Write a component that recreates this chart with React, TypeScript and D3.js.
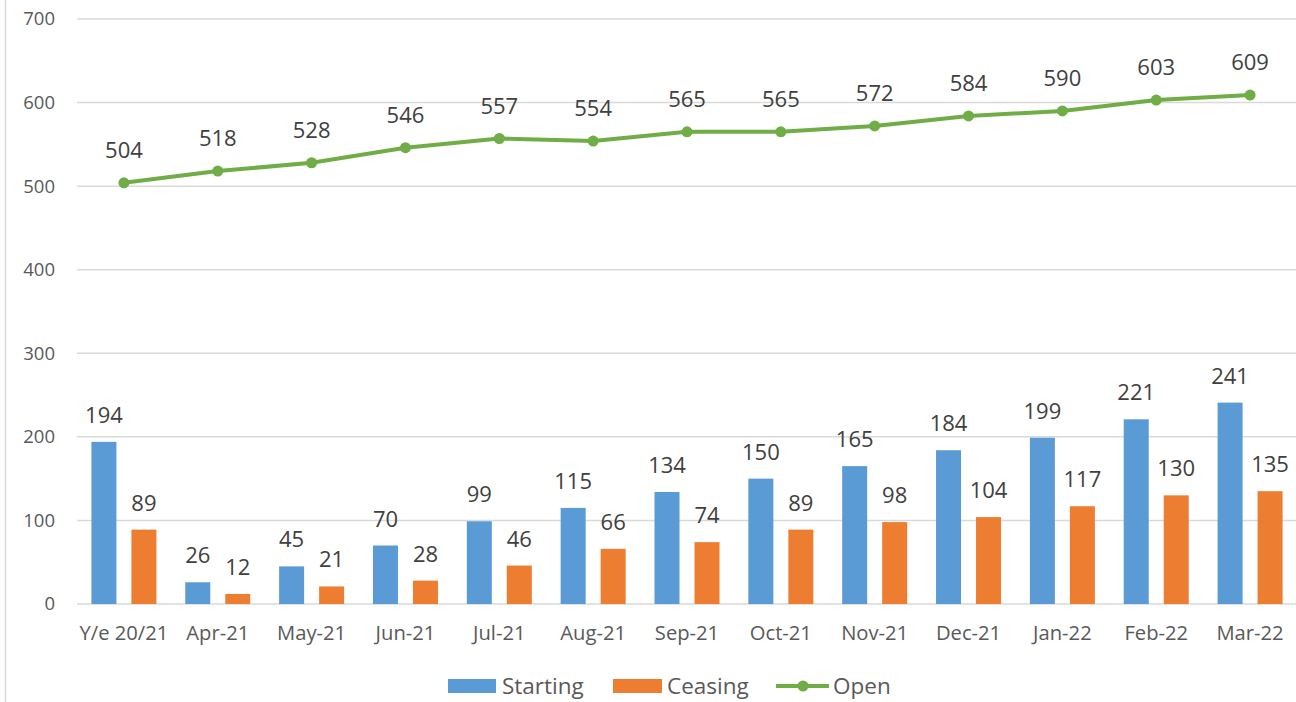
import React from "react";
import * as d3 from "d3";

const categories = ["Y/e 20/21", "Apr-21", "May-21", "Jun-21", "Jul-21", "Aug-21", "Sep-21", "Oct-21", "Nov-21", "Dec-21", "Jan-22", "Feb-22", "Mar-22"];
const starting = [194, 26, 45, 70, 99, 115, 134, 150, 165, 184, 199, 221, 241];
const ceasing = [89, 12, 21, 28, 46, 66, 74, 89, 98, 104, 117, 130, 135];
const open = [504, 518, 528, 546, 557, 554, 565, 565, 572, 584, 590, 603, 609];
const yTicks = [0, 100, 200, 300, 400, 500, 600, 700];

const W = 1296, H = 702;
const BLUE = "#5B9BD5", ORANGE = "#ED7D31", GREEN = "#70AD47";
const FONT = "'Open Sans', sans-serif";

export default function App() {
  const x = d3.scaleBand().domain(categories).range([77, 1297]).paddingInner(0).paddingOuter(0);
  const y = d3.scaleLinear().domain([0, 700]).range([604, 19]);
  const sub = d3.scaleBand().domain(["s", "c"]).range([-32.5, 32.5]).paddingInner(0.375).paddingOuter(0);
  const cx = (c: string) => (x(c) as number) + x.bandwidth() / 2;
  const line = d3.line<number>().x((_, i) => cx(categories[i])).y((v) => y(v));
  const bw = sub.bandwidth();

  return (
    <svg width={W} height={H} style={{ position: "absolute", left: 0, top: 0, background: "#fff" }}>
      <line x1={5.5} x2={5.5} y1={0} y2={702} stroke="#d9d9d9" strokeWidth={1.5} />
      {yTicks.map((t) => (
        <g key={t}>
          <line x1={77} x2={1296} y1={y(t)} y2={y(t)} stroke="#d9d9d9" strokeWidth={1.5} />
          <text x={55} y={y(t)} dy="0.35em" textAnchor="end" fontFamily={FONT} fontSize={18.5} fill="#595959">{t}</text>
        </g>
      ))}
      {categories.map((c, i) => (
        <g key={c}>
          <rect x={cx(c) + (sub("s") as number)} y={y(starting[i])} width={bw} height={y(0) - y(starting[i])} fill={BLUE} />
          <rect x={cx(c) + (sub("c") as number)} y={y(ceasing[i])} width={bw} height={y(0) - y(ceasing[i])} fill={ORANGE} />
          <text x={cx(c) + (sub("s") as number) + bw / 2} y={y(starting[i]) - 19} textAnchor="middle" fontFamily={FONT} fontSize={22} fill="#404040">{starting[i]}</text>
          <text x={cx(c) + (sub("c") as number) + bw / 2} y={y(ceasing[i]) - 19} textAnchor="middle" fontFamily={FONT} fontSize={22} fill="#404040">{ceasing[i]}</text>
          <text x={cx(c)} y={640} textAnchor="middle" fontFamily={FONT} fontSize={20.2} fill="#595959">{c}</text>
        </g>
      ))}
      <path d={line(open) as string} fill="none" stroke={GREEN} strokeWidth={4} strokeLinejoin="round" />
      {open.map((v, i) => (
        <g key={i}>
          <circle cx={cx(categories[i])} cy={y(v)} r={5.5} fill={GREEN} />
          <text x={cx(categories[i])} y={y(v) - 25} textAnchor="middle" fontFamily={FONT} fontSize={22} fill="#404040">{v}</text>
        </g>
      ))}
      <g fontFamily={FONT} fontSize={22.5} fill="#595959">
        <rect x={448} y={679} width={48} height={14} fill={BLUE} />
        <text x={502} y={686} dy="0.35em">Starting</text>
        <rect x={613} y={679} width={49} height={14} fill={ORANGE} />
        <text x={667} y={686} dy="0.35em">Ceasing</text>
        <line x1={776} x2={829} y1={686} y2={686} stroke={GREEN} strokeWidth={4} />
        <circle cx={803} cy={686} r={5.5} fill={GREEN} />
        <text x={833} y={686} dy="0.35em">Open</text>
      </g>
    </svg>
  );
}
